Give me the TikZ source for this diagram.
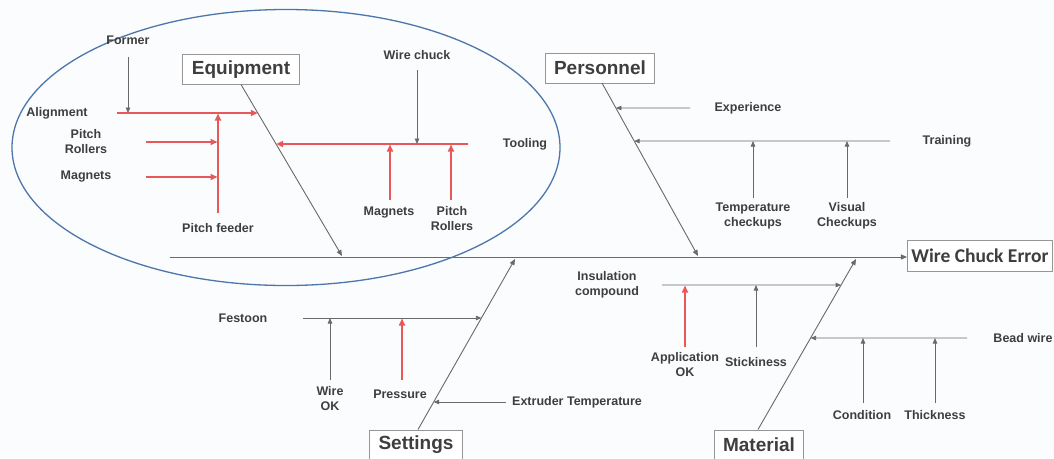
\documentclass[tikz,border=0pt]{standalone}
\usepackage{fontspec}
\setmainfont{Liberation Sans}
\newfontfamily\effectfont{Carlito}
\usetikzlibrary{arrows.meta}

\definecolor{ink}{RGB}{62,62,62}
\definecolor{wire}{RGB}{105,105,105}
\definecolor{hot}{RGB}{232,88,88}
\definecolor{ring}{RGB}{78,118,170}
\definecolor{frame}{RGB}{150,150,150}
\definecolor{paper}{RGB}{251,252,253}

\tikzset{
  lbl/.style={font=\fontsize{12.5}{15}\selectfont\bfseries, text=ink, align=center, inner sep=1pt},
  cat/.style={draw=frame, line width=0.9pt, fill=white, font=\fontsize{19}{22}\selectfont\bfseries,
              text=ink, minimum height=30pt, inner xsep=9pt},
  bone/.style={draw=wire, line width=0.9pt, -{Triangle[length=6pt,width=5pt]}},
  sub/.style={draw=wire, line width=0.8pt, -{Triangle[length=5.5pt,width=4.5pt]}},
  subred/.style={draw=hot, line width=1.6pt, -{Triangle[length=7pt,width=6pt]}},
}

\begin{document}
\begin{tikzpicture}[x=1pt,y=-1pt]
  \fill[paper] (0,0) rectangle (1054,458);
  \useasboundingbox (0,0) rectangle (1054,458);

  % ---- effect and spine ----
  \node[draw=frame, line width=0.9pt, fill=white, font=\effectfont\fontsize{19.5}{22}\selectfont\bfseries,
        text=ink, minimum height=31pt, inner xsep=4pt] (effect) at (980,255.5) {Wire Chuck Error};
  \coordinate (tail) at (170,257);
  \draw[bone] (tail) -- (effect.west |- tail);

  % ---- category boxes ----
  \node[cat] (equip) at (241,69.5) {Equipment};
  \node[cat] (pers)  at (600,68)   {Personnel};
  \node[cat] (sett)  at (416,445)  {Settings};
  \node[cat] (mat)   at (759,445)  {Material};

  % ---- main bones ----
  \coordinate (eqA) at (241,84.5);  \coordinate (eqB) at (342,256);
  \coordinate (peA) at (602,83);    \coordinate (peB) at (698,256);
  \coordinate (seA) at (418,429.5); \coordinate (seB) at (515,259);
  \coordinate (maA) at (758,429.5); \coordinate (maB) at (856,259);
  \draw[bone] (eqA) -- (eqB);
  \draw[bone] (peA) -- (peB);
  \draw[bone] (seA) -- (seB);
  \draw[bone] (maA) -- (maB);

  % ---- equipment group ----
  \draw[ring, line width=1.3pt] (286,147.5) ellipse [x radius=274, y radius=138];

  \node[lbl] (former) at (128,40) {Former};
  \node[lbl] (align) at (57,113) {Alignment};
  \node[lbl] (prol) at (86,142) {Pitch\\Rollers};
  \node[lbl] (magl) at (86,177) {Magnets};
  \node[lbl] (feed) at (218,228) {Pitch feeder};
  \node[lbl] (tool) at (525,144) {Tooling};
  \node[lbl] (chuck) at (417,55) {Wire chuck};
  \node[lbl] (magr) at (389,213) {Magnets};
  \node[lbl] (prolr) at (452,219) {Pitch\\Rollers};

  \coordinate (al1) at (117,113); \coordinate (al2) at (300,113);
  \coordinate (to1) at (468,144); \coordinate (to2) at (200,144);
  \coordinate (alB) at (intersection of eqA--eqB and al1--al2);
  \coordinate (toB) at (intersection of eqA--eqB and to1--to2);
  \draw[subred] (al1) -- (alB);
  \draw[subred] (to1) -- (toB);

  \coordinate (fo1) at (128,57);  \coordinate (fo2) at (128,113);
  \draw[sub] (fo1) -- (fo2);
  \coordinate (pf1) at (218,213); \coordinate (pf2) at (218,113.5);
  \draw[subred] (pf1) -- (pf2);
  \coordinate (pr1) at (146,142); \coordinate (pr2) at (217.5,142);
  \draw[subred] (pr1) -- (pr2);
  \coordinate (mg1) at (146,177); \coordinate (mg2) at (217.5,177);
  \draw[subred] (mg1) -- (mg2);

  \coordinate (wc1) at (417,70);  \coordinate (wc2) at (417,144);
  \draw[sub] (wc1) -- (wc2);
  \coordinate (mr1) at (390,200); \coordinate (mr2) at (390,144.5);
  \draw[subred] (mr1) -- (mr2);
  \coordinate (rr1) at (451,200); \coordinate (rr2) at (451,144.5);
  \draw[subred] (rr1) -- (rr2);

  % ---- personnel group ----
  \node[lbl] (exp) at (748,108) {Experience};
  \node[lbl] (train) at (947,141) {Training};
  \node[lbl] (tchk) at (753,216) {Temperature\\checkups};
  \node[lbl] (vchk) at (847,216) {Visual\\Checkups};

  \coordinate (ex1) at (690,108); \coordinate (ex2) at (560,108);
  \coordinate (tr1) at (890,141); \coordinate (tr2) at (560,141);
  \coordinate (exB) at (intersection of peA--peB and ex1--ex2);
  \coordinate (trB) at (intersection of peA--peB and tr1--tr2);
  \draw[sub] (ex1) -- (exB);
  \draw[sub] (tr1) -- (trB);
  \coordinate (tc1) at (753,198); \coordinate (tc2) at (753,141);
  \draw[sub] (tc1) -- (tc2);
  \coordinate (vc1) at (847,198); \coordinate (vc2) at (847,141);
  \draw[sub] (vc1) -- (vc2);

  % ---- settings group ----
  \node[lbl] (fest) at (243,318) {Festoon};
  \node[lbl] (wok) at (330,399) {Wire\\OK};
  \node[lbl] (press) at (400,394) {Pressure};
  \node[lbl, anchor=west] (extr) at (511,402) {Extruder Temperature};

  \coordinate (fe1) at (303,318); \coordinate (fe2) at (560,318);
  \coordinate (et1) at (506,402); \coordinate (et2) at (380,402);
  \coordinate (feB) at (intersection of seA--seB and fe1--fe2);
  \coordinate (etB) at (intersection of seA--seB and et1--et2);
  \draw[sub] (fe1) -- (feB);
  \draw[sub] (et1) -- (etB);
  \coordinate (wo1) at (330,380); \coordinate (wo2) at (330,318);
  \draw[sub] (wo1) -- (wo2);
  \coordinate (ps1) at (402,380); \coordinate (ps2) at (402,318.5);
  \draw[subred] (ps1) -- (ps2);

  % ---- material group ----
  \node[lbl] (insul) at (607,285) {Insulation\\compound};
  \node[lbl] (appl) at (685,365) {Application\\OK};
  \node[lbl] (stick) at (756,362) {Stickiness};
  \node[lbl] (bead) at (1023,338) {Bead wire};
  \node[lbl] (cond) at (862,415) {Condition};
  \node[lbl] (thick) at (935,415) {Thickness};

  \coordinate (in1) at (662,285); \coordinate (in2) at (900,285);
  \coordinate (bw1) at (967,338); \coordinate (bw2) at (760,338);
  \coordinate (inB) at (intersection of maA--maB and in1--in2);
  \coordinate (bwB) at (intersection of maA--maB and bw1--bw2);
  \draw[sub] (in1) -- (inB);
  \draw[sub] (bw1) -- (bwB);
  \coordinate (ap1) at (685,347); \coordinate (ap2) at (685,285.5);
  \draw[subred] (ap1) -- (ap2);
  \coordinate (st1) at (756,347); \coordinate (st2) at (756,285);
  \draw[sub] (st1) -- (st2);
  \coordinate (cd1) at (863,403); \coordinate (cd2) at (863,338);
  \draw[sub] (cd1) -- (cd2);
  \coordinate (th1) at (935,403); \coordinate (th2) at (935,338);
  \draw[sub] (th1) -- (th2);
\end{tikzpicture}
\end{document}
